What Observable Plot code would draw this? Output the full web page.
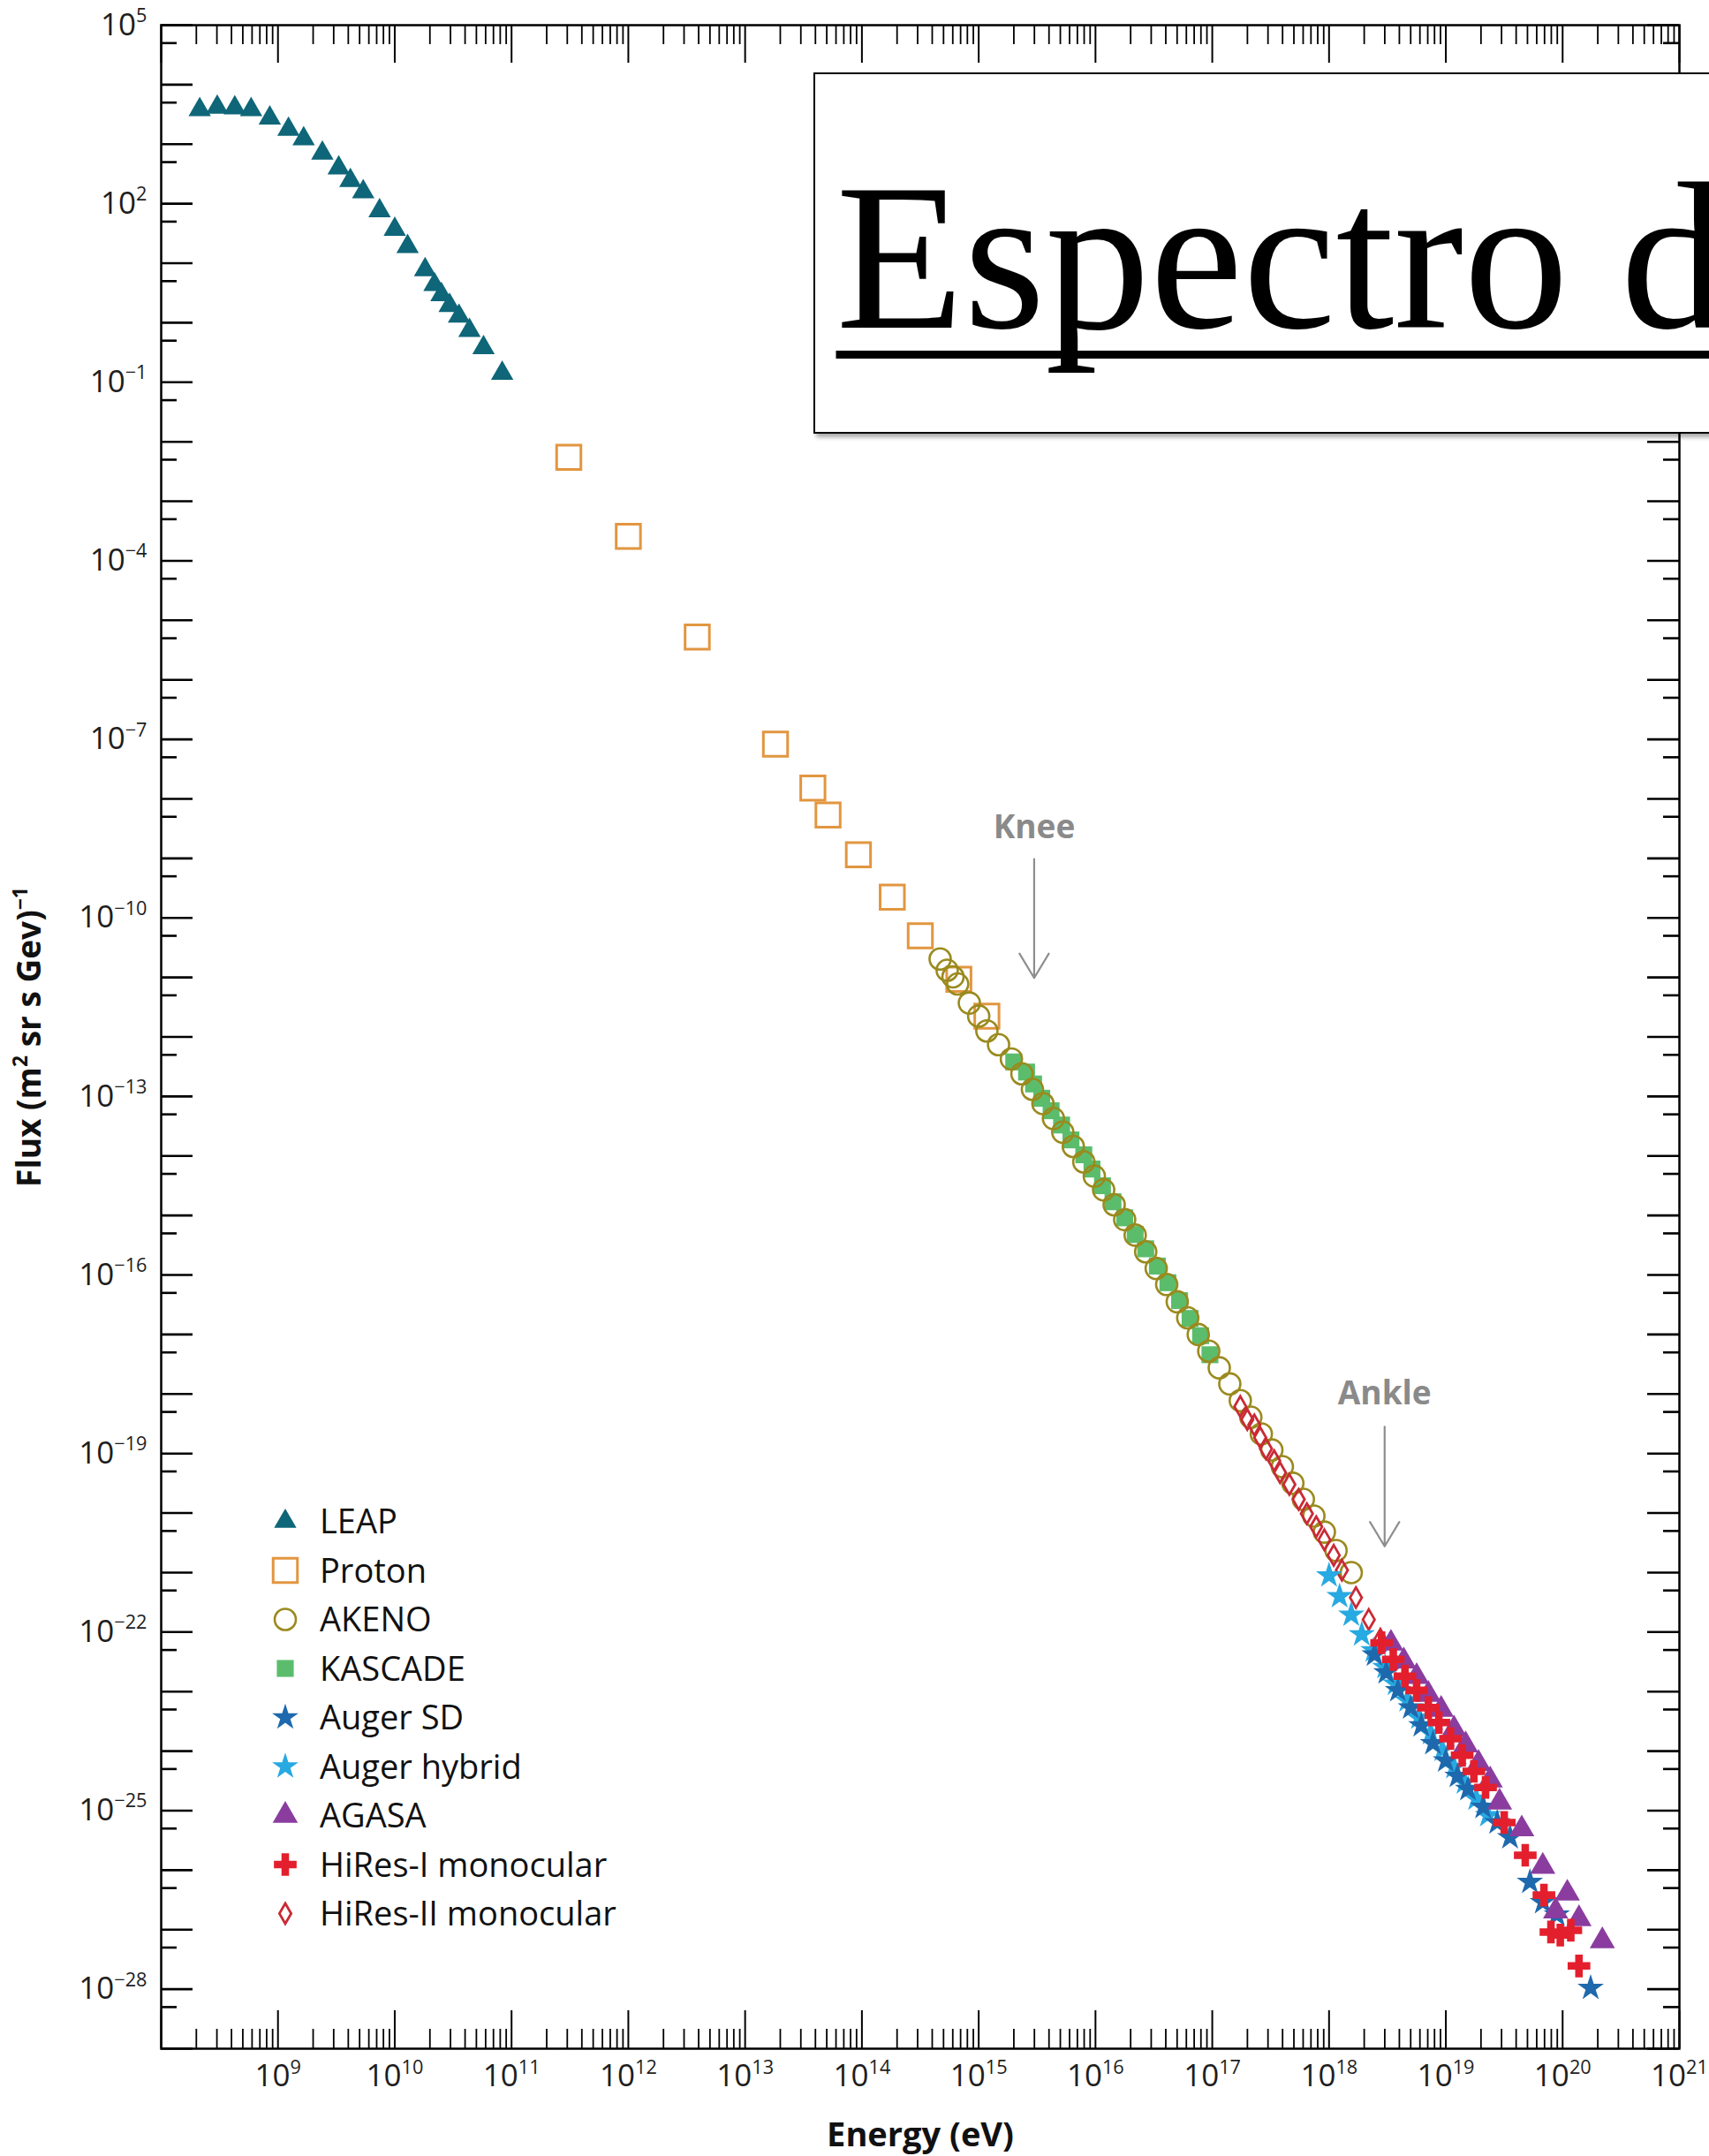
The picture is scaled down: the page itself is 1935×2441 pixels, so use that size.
<!DOCTYPE html>
<html>
<head>
<meta charset="utf-8">
<script src="https://cdn.jsdelivr.net/npm/d3@7"></script>
<script src="https://cdn.jsdelivr.net/npm/@observablehq/plot@0.6"></script>
<style>
  html, body { margin: 0; padding: 0; background: #fff; overflow: hidden; }
  #page { position: relative; width: 1935px; height: 2441px; overflow: hidden; font-family: "Open Sans", sans-serif; }
  #page > svg.chart { position: absolute; left: 0; top: 0; }
  #title-box {
    position: absolute; left: 921px; top: 82px; width: 1100px; height: 405px;
    border: 2.5px solid #000; background: #fff;
    box-shadow: 3px 4px 5px rgba(0, 0, 0, 0.35);
  }
  #title-box span {
    position: absolute; left: 23.5px; top: 89px;
    font-family: "Liberation Serif", "Times New Roman", serif;
    font-size: 237px; line-height: 237px; white-space: nowrap; color: #000;
    text-decoration: underline; text-decoration-thickness: 9px;
    text-underline-offset: 26px; text-decoration-skip-ink: none;
  }
  #legend { position: absolute; left: 280px; top: 1690px; }
</style>
</head>
<body>
<div id="page">
  <div id="title-box"><span>Espectro d</span></div>
</div>
<script>
// ---- Measured spectra: log10(energy / eV) and log10(flux / (m^2 sr s GeV)^-1) ----
const leapLogE = [8.33, 8.48, 8.63, 8.77, 8.93, 9.09, 9.22, 9.38, 9.52, 9.62, 9.73, 9.87, 10.0, 10.11, 10.26, 10.34, 10.40, 10.47, 10.55, 10.64, 10.76, 10.92];
const leapLogFlux = [3.58, 3.62, 3.61, 3.58, 3.44, 3.25, 3.09, 2.85, 2.60, 2.39, 2.20, 1.88, 1.57, 1.28, 0.89, 0.64, 0.47, 0.29, 0.11, -0.13, -0.42, -0.85];

const protonLogE = [11.49, 12.00, 12.59, 13.26, 13.58, 13.71, 13.97, 14.26, 14.50, 14.83, 15.07];
const protonLogFlux = [-2.26, -3.59, -5.28, -7.08, -7.82, -8.27, -8.94, -9.65, -10.30, -11.03, -11.65];

const akenoLogE = [14.67, 14.73, 14.78, 14.82, 14.92, 15.00, 15.07, 15.17, 15.28, 15.37, 15.46, 15.55, 15.64, 15.72, 15.81, 15.90, 15.99, 16.07, 16.16, 16.25, 16.34, 16.43, 16.52, 16.61, 16.70, 16.79, 16.88, 16.97, 17.06, 17.15, 17.24, 17.33, 17.42, 17.51, 17.60, 17.69, 17.78, 17.87, 17.96, 18.06, 18.19];
const akenoLogFlux = [-10.69, -10.88, -10.99, -11.11, -11.43, -11.65, -11.90, -12.13, -12.37, -12.62, -12.88, -13.12, -13.37, -13.60, -13.84, -14.10, -14.34, -14.57, -14.82, -15.07, -15.33, -15.61, -15.89, -16.16, -16.45, -16.72, -17.00, -17.28, -17.56, -17.83, -18.11, -18.39, -18.67, -18.94, -19.22, -19.50, -19.77, -20.05, -20.32, -20.63, -21.00];

const kascadeLogE = [15.30, 15.41, 15.47, 15.54, 15.62, 15.71, 15.79, 15.90, 15.97, 16.06, 16.15, 16.25, 16.34, 16.43, 16.53, 16.62, 16.72, 16.81, 16.90, 16.98];
const kascadeLogFlux = [-12.42, -12.59, -12.79, -13.03, -13.24, -13.48, -13.73, -13.98, -14.22, -14.50, -14.77, -15.04, -15.32, -15.56, -15.85, -16.13, -16.43, -16.73, -17.02, -17.34];

const augerSdLogE = [18.39, 18.49, 18.59, 18.70, 18.79, 18.89, 19.00, 19.10, 19.19, 19.32, 19.44, 19.55, 19.72, 19.83, 19.95, 20.24];
const augerSdLogFlux = [-22.38, -22.68, -22.98, -23.27, -23.57, -23.87, -24.16, -24.42, -24.64, -24.94, -25.20, -25.45, -26.20, -26.54, -26.75, -27.98];

const augerHybridLogE = [18.00, 18.09, 18.19, 18.28, 18.38, 18.48, 18.57, 18.67, 18.77, 18.87, 18.97, 19.07, 19.16, 19.26, 19.36];
const augerHybridLogFlux = [-21.05, -21.40, -21.71, -22.04, -22.31, -22.59, -22.87, -23.15, -23.44, -23.70, -23.98, -24.27, -24.53, -24.80, -25.08];

const agasaLogE = [18.53, 18.64, 18.75, 18.85, 18.96, 19.07, 19.17, 19.28, 19.38, 19.46, 19.65, 19.83, 19.94, 20.04, 20.14, 20.34];
const agasaLogFlux = [-22.19, -22.49, -22.75, -23.05, -23.30, -23.63, -23.90, -24.21, -24.49, -24.86, -25.31, -25.94, -26.69, -26.39, -26.82, -27.19];

const hires1LogE = [18.45, 18.55, 18.65, 18.75, 18.85, 18.94, 19.04, 19.14, 19.24, 19.34, 19.50, 19.68, 19.84, 19.90, 19.98, 20.07, 20.14];
const hires1LogFlux = [-22.18, -22.46, -22.74, -22.98, -23.27, -23.52, -23.79, -24.07, -24.34, -24.61, -25.20, -25.75, -26.42, -27.04, -27.09, -27.01, -27.61];

const hires2LogE = [17.24, 17.30, 17.36, 17.41, 17.46, 17.53, 17.58, 17.66, 17.74, 17.81, 17.89, 17.96, 18.04, 18.11, 18.23, 18.34, 18.44];
const hires2LogFlux = [-18.21, -18.43, -18.52, -18.73, -18.92, -19.12, -19.32, -19.52, -19.77, -20.01, -20.23, -20.45, -20.71, -20.96, -21.42, -21.79, -22.12];

// ---- Annotations (spectral features) ----
const featureLabels = ["Knee", "Ankle"];
const featureLogE = [15.475, 18.476];
const featureTextLogFlux = [-8.49, -18.0];
const featureArrowFromLogFlux = [-9.01, -18.55];
const featureArrowToLogFlux = [-11.01, -20.56];

// ---- Axis tick labels (exponents of ten) ----
const xLabelExponents = [9, 10, 11, 12, 13, 14, 15, 16, 17, 18, 19, 20, 21];
const yLabelExponents = [5, 2, -1, -4, -7, -10, -13, -16, -19, -22, -25, -28];
const xTitle = "Energy (eV)";
const yTitle = "Flux (m^{2} sr s Gev)^{\u22121}";

// ---- Series appearance ----
const seriesNames = ["LEAP", "Proton", "AKENO", "KASCADE", "Auger SD", "Auger hybrid", "AGASA", "HiRes-I monocular", "HiRes-II monocular"];
const seriesStyle = {
  "LEAP":               {symbol: "triangle", r: 9.4,  fill: "#0e6678", stroke: "none",    strokeWidth: 0},
  "Proton":             {symbol: "square",   r: 15.5, fill: "none",    stroke: "#e29640", strokeWidth: 3},
  "AKENO":              {symbol: "circle",   r: 12,   fill: "none",    stroke: "#9a8a1e", strokeWidth: 2.6},
  "KASCADE":            {symbol: "square",   r: 10.8, fill: "#5bbd6c", stroke: "none",    strokeWidth: 0},
  "Auger SD":           {symbol: "star",     r: 9.4,  fill: "#1e69ad", stroke: "none",    strokeWidth: 0},
  "Auger hybrid":       {symbol: "star",     r: 9.4,  fill: "#27a9e1", stroke: "none",    strokeWidth: 0},
  "AGASA":              {symbol: "triangle", r: 10.6, fill: "#8a3d9f", stroke: "none",    strokeWidth: 0},
  "HiRes-I monocular":  {symbol: "cross",    r: 10.8, fill: "#e41f2d", stroke: "none",    strokeWidth: 0},
  "HiRes-II monocular": {symbol: "diamond",  r: 7,    fill: "none",    stroke: "#c92a35", strokeWidth: 2.8}
};

const toRows = (logE, logF) => logE.map((e, i) => ({energy: 10 ** e, flux: 10 ** logF[i]}));
const seriesRows = {
  "LEAP": toRows(leapLogE, leapLogFlux),
  "Proton": toRows(protonLogE, protonLogFlux),
  "AKENO": toRows(akenoLogE, akenoLogFlux),
  "KASCADE": toRows(kascadeLogE, kascadeLogFlux),
  "Auger SD": toRows(augerSdLogE, augerSdLogFlux),
  "Auger hybrid": toRows(augerHybridLogE, augerHybridLogFlux),
  "AGASA": toRows(agasaLogE, agasaLogFlux),
  "HiRes-I monocular": toRows(hires1LogE, hires1LogFlux),
  "HiRes-II monocular": toRows(hires2LogE, hires2LogFlux)
};
const drawOrder = ["LEAP", "Proton", "KASCADE", "AKENO", "HiRes-II monocular", "Auger hybrid", "Auger SD", "AGASA", "HiRes-I monocular"];

const features = featureLabels.map((label, i) => ({
  label,
  energy: 10 ** featureLogE[i],
  textFlux: 10 ** featureTextLogFlux[i],
  from: 10 ** featureArrowFromLogFlux[i],
  to: 10 ** featureArrowToLogFlux[i]
}));

// ---- Layout ----
const width = 1935, height = 2441;
const margin = {top: 28, right: 34, bottom: 122, left: 182};
const innerW = width - margin.left - margin.right;
const innerH = height - margin.top - margin.bottom;
const majorLen = 43, minorLen = 22, yMajorLen = 36, yMinorLen = 18;

// tick positions: decades, plus 2..9 (x) and 5 (y) within each decade
const xMajor = d3.range(8, 22).map(n => 10 ** n);
const xMinor = d3.range(8, 21).flatMap(n => d3.range(2, 10).map(k => k * 10 ** n));
const yMajor = d3.range(-29, 6).map(n => 10 ** n);
const yMinor = d3.range(-29, 5).map(n => 5 * 10 ** n);

const pow10 = n => `10^{${n < 0 ? "\u2212" + (-n) : n}}`;
const expOf = v => Math.round(Math.log10(v));

const chart = Plot.plot({
  width, height,
  marginTop: margin.top, marginRight: margin.right, marginBottom: margin.bottom, marginLeft: margin.left,
  style: {fontFamily: "'Open Sans', sans-serif", fontSize: "35px", color: "#1e1e1e", background: "transparent", overflow: "visible"},
  x: {type: "log", domain: [1e8, 1e21]},
  y: {type: "log", domain: [1e-29, 1e5]},
  marks: [
    // data series
    ...drawOrder.map(name => {
      const s = seriesStyle[name];
      return Plot.dot(seriesRows[name], {
        x: "energy", y: "flux", symbol: s.symbol, r: s.r,
        fill: s.fill, stroke: s.stroke, strokeWidth: s.strokeWidth
      });
    }),
    // knee / ankle markers
    Plot.arrow(features, {x: "energy", y1: "from", y2: "to", stroke: "#8e8e8e", strokeWidth: 2.2, headLength: 22, headAngle: 62}),
    Plot.text(features, {x: "energy", y: "textFlux", text: "label", fill: "#8a8a8a", fontWeight: "bold", fontSize: 37}),
    // inward ticks on all four sides
    Plot.ruleX(xMajor, {insetTop: innerH - majorLen, stroke: "#000", strokeWidth: 2}),
    Plot.ruleX(xMinor, {insetTop: innerH - minorLen, stroke: "#000", strokeWidth: 1.8}),
    Plot.ruleX(xMajor, {insetBottom: innerH - majorLen, stroke: "#000", strokeWidth: 2}),
    Plot.ruleX(xMinor, {insetBottom: innerH - minorLen, stroke: "#000", strokeWidth: 1.8}),
    Plot.ruleY(yMajor, {insetRight: innerW - yMajorLen, stroke: "#000", strokeWidth: 2.6}),
    Plot.ruleY(yMinor, {insetRight: innerW - yMinorLen, stroke: "#000", strokeWidth: 2.6}),
    Plot.ruleY(yMajor, {insetLeft: innerW - yMajorLen, stroke: "#000", strokeWidth: 2.6}),
    Plot.ruleY(yMinor, {insetLeft: innerW - yMinorLen, stroke: "#000", strokeWidth: 2.6}),
    Plot.frame({stroke: "#000", strokeWidth: 2.5}),
    // tick labels
    Plot.axisX({anchor: "bottom", ticks: xLabelExponents.map(n => 10 ** n), tickSize: 0, tickPadding: 18, tickFormat: v => pow10(expOf(v)), label: null}),
    Plot.axisY({anchor: "left", ticks: yLabelExponents.map(n => 10 ** n), tickSize: 0, tickPadding: 16, tickFormat: v => pow10(expOf(v)), label: null}),
    // axis titles
    Plot.text([xTitle], {frameAnchor: "bottom", dy: 110, text: d => d, textAnchor: "middle", fontWeight: "bold", fontSize: 38, fill: "#111"}),
    Plot.text([yTitle], {frameAnchor: "left", dx: -148, rotate: -90, text: d => d, textAnchor: "middle", fontWeight: "bold", fontSize: 37, fill: "#111"})
  ]
});
chart.classList.add("chart");
const page = document.getElementById("page");
page.insertBefore(chart, page.firstChild);

// Turn "^{...}" runs into raised, smaller tspans
function applySuperscripts(root) {
  root.querySelectorAll("text").forEach(node => {
    const s = node.textContent;
    if (!s.includes("^{")) return;
    const fs = parseFloat(getComputedStyle(node).fontSize) || 35;
    const rise = 0.42 * fs;
    const parts = s.split(/\^\{([^}]*)\}/);
    while (node.firstChild) node.removeChild(node.firstChild);
    let raised = false;
    parts.forEach((p, i) => {
      if (!p) return;
      const t = document.createElementNS("http://www.w3.org/2000/svg", "tspan");
      if (i % 2) {
        t.setAttribute("font-size", (0.62 * fs).toFixed(1));
        t.setAttribute("dy", (-rise).toFixed(1));
        raised = true;
      } else if (raised) {
        t.setAttribute("dy", rise.toFixed(1));
        raised = false;
      }
      t.textContent = p;
      node.appendChild(t);
    });
  });
}
applySuperscripts(chart);

// ---- Legend ----
const symbolTypes = {
  triangle: d3.symbolTriangle, square: d3.symbolSquare, circle: d3.symbolCircle,
  star: d3.symbolStar, cross: d3.symbolCross, diamond: d3.symbolDiamond
};
const legendRow = 55.5, legendMarkerX = 43, legendTextX = 82, legendFirstY = 32.5;
const legend = d3.select(page).append("svg")
  .attr("id", "legend").attr("width", 540).attr("height", 500);
const rows = legend.selectAll("g").data(seriesNames).join("g")
  .attr("transform", (d, i) => `translate(0,${legendFirstY + i * legendRow})`);
rows.append("path")
  .attr("transform", `translate(${legendMarkerX},0)`)
  .attr("d", d => d3.symbol(symbolTypes[seriesStyle[d].symbol], Math.PI * seriesStyle[d].r ** 2)())
  .attr("fill", d => seriesStyle[d].fill)
  .attr("stroke", d => seriesStyle[d].stroke)
  .attr("stroke-width", d => seriesStyle[d].strokeWidth);
rows.append("text")
  .attr("x", legendTextX).attr("y", 13.5)
  .attr("font-family", "'Open Sans', sans-serif").attr("font-size", 38).attr("fill", "#111")
  .text(d => d);
</script>
</body>
</html>
